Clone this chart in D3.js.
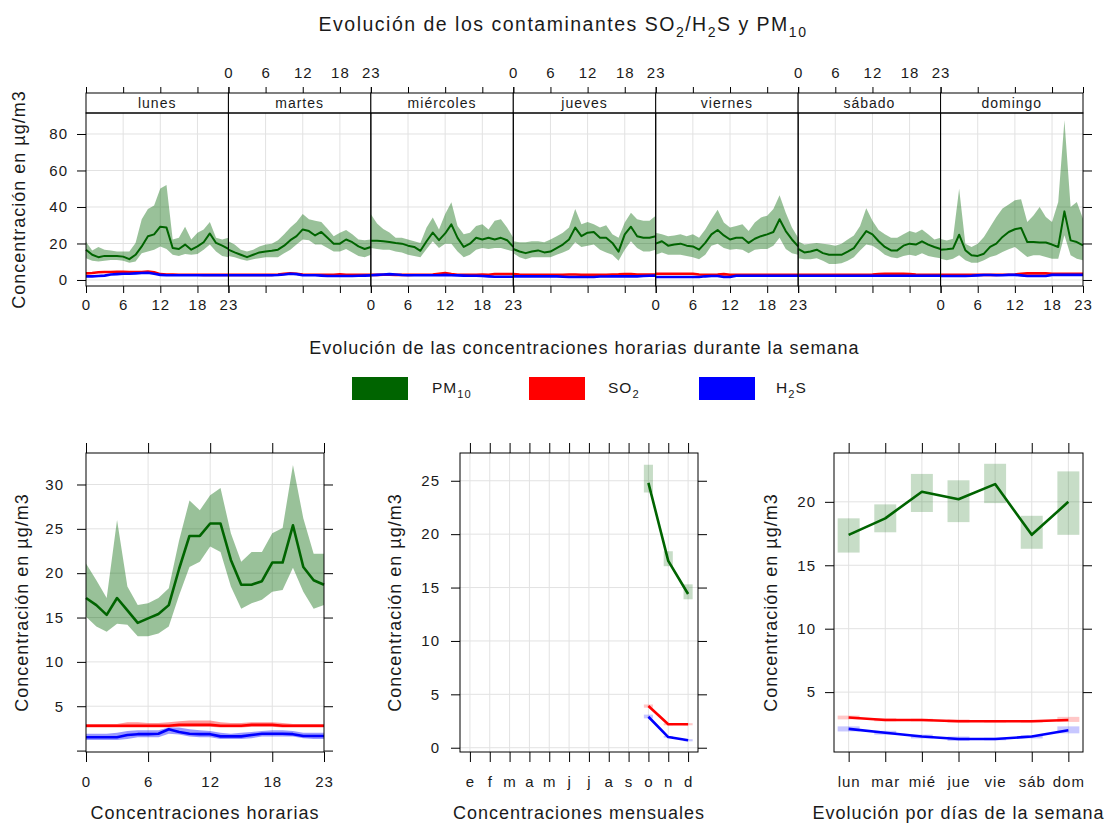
<!DOCTYPE html>
<html>
<head>
<meta charset="utf-8">
<script src="https://cdn.jsdelivr.net/npm/d3@7"></script>
<style>
  body { margin: 0; background: #fff; }
  svg text { font-family: "Liberation Sans", Arial, sans-serif; fill: #1a1a1a; }
</style>
</head>
<body>
<svg id="chart" width="1107" height="823"></svg>
<script>
// ---- data ----
var days = ['lunes', 'martes', 'miércoles', 'jueves', 'viernes', 'sábado', 'domingo']
var hourTicks = [0, 6, 12, 18, 23]

// hourly means over the week, lunes 0h ... domingo 23h
var pm10Week = [
  16.6, 13.8, 12.5, 13.2, 13.2, 13.2, 12.8, 11.4, 13.8, 18.4, 24.0, 25.0, 29.2, 28.7, 17.5, 17.0, 19.4, 16.6, 18.4, 20.7, 25.5, 20.3, 18.8, 17.0,
  16.6, 15.1, 13.8, 12.5, 13.8, 15.1, 15.6, 16.0, 16.6, 18.8, 21.8, 24.0, 27.7, 26.8, 24.4, 26.3, 23.1, 19.9, 19.9, 22.2, 20.7, 18.4, 17.0, 18.1,
  21.5, 21.5, 21.2, 20.8, 20.3, 19.9, 18.8, 18.1, 16.0, 21.2, 26.0, 21.8, 25.5, 30.5, 23.1, 18.1, 19.9, 23.1, 22.2, 23.1, 22.2, 23.1, 21.8, 18.1,
  17.0, 15.6, 14.7, 15.6, 16.2, 15.1, 15.6, 17.5, 19.4, 22.2, 28.7, 24.0, 25.9, 26.3, 23.1, 23.1, 20.3, 15.5, 25.0, 29.2, 24.0, 23.1, 23.1, 24.0,
  19.9, 21.2, 18.8, 19.4, 19.9, 18.8, 18.4, 16.6, 20.3, 25.0, 27.4, 24.4, 22.2, 23.1, 23.1, 20.3, 22.6, 24.0, 25.0, 26.3, 33.3, 26.8, 22.2, 18.4,
  17.0, 15.1, 15.6, 16.6, 14.7, 13.8, 13.8, 13.8, 15.6, 17.5, 22.2, 26.8, 25.0, 21.2, 18.1, 16.2, 16.2, 18.8, 19.9, 19.4, 21.2, 19.4, 18.1, 17.0,
  16.5, 16.8, 17.2, 24.8, 16.3, 13.5, 13.2, 14.4, 18.1, 19.9, 23.6, 26.3, 27.8, 28.5, 20.8, 20.8, 20.5, 20.5, 19.4, 18.1, 37.6, 21.7, 20.8, 19.0
]
var pm10WeekHi = [
  21.0, 16.2, 18.1, 16.6, 16.2, 15.6, 15.6, 15.6, 20.3, 33.3, 38.9, 40.8, 50.1, 52.0, 22.2, 23.1, 29.2, 22.2, 25.9, 27.7, 31.8, 23.1, 22.2, 23.1,
  21.2, 19.4, 16.6, 15.6, 16.6, 18.4, 19.4, 19.9, 21.8, 25.0, 28.7, 31.8, 36.1, 33.3, 32.4, 31.8, 28.1, 24.0, 25.9, 27.4, 25.0, 22.2, 21.8, 22.2,
  36.0, 31.0, 28.0, 26.0, 23.1, 23.1, 22.2, 21.2, 20.3, 28.7, 34.3, 27.7, 36.1, 42.6, 29.6, 25.0, 25.9, 29.6, 30.5, 27.7, 32.4, 33.3, 28.7, 23.1,
  21.2, 20.7, 20.7, 21.2, 21.2, 20.7, 22.2, 24.0, 25.9, 28.7, 38.9, 30.5, 31.8, 30.5, 28.7, 30.0, 25.0, 23.1, 31.5, 36.9, 33.3, 32.4, 32.4, 35.2,
  25.9, 25.0, 24.0, 24.4, 25.0, 24.0, 25.0, 23.1, 27.7, 33.3, 38.5, 31.5, 28.7, 29.6, 30.5, 26.8, 31.5, 34.3, 35.2, 38.9, 46.4, 36.9, 28.7, 23.1,
  21.2, 19.4, 19.9, 20.3, 19.9, 19.4, 18.8, 19.9, 22.2, 24.4, 29.6, 39.3, 32.4, 27.4, 25.0, 23.1, 23.1, 25.0, 26.8, 25.9, 27.7, 25.0, 22.2, 23.1,
  22.5, 21.7, 22.6, 50.0, 19.9, 18.1, 19.9, 23.6, 29.0, 34.5, 39.1, 41.3, 43.7, 44.2, 31.8, 35.4, 40.0, 34.5, 31.8, 42.7, 87.5, 40.0, 42.7, 33.6
]
var pm10WeekLo = [
  11.9, 10.6, 10.1, 10.6, 11.0, 11.0, 10.6, 9.5, 10.1, 14.7, 15.6, 16.6, 18.4, 17.0, 13.8, 13.2, 14.3, 13.8, 14.3, 16.6, 19.4, 15.6, 13.2, 12.5,
  13.2, 12.5, 11.4, 10.6, 11.4, 11.9, 12.5, 12.5, 12.5, 14.7, 16.6, 19.4, 22.2, 21.8, 19.4, 19.4, 17.5, 15.6, 15.6, 17.0, 15.1, 13.2, 12.5, 13.8,
  17.5, 17.0, 16.6, 16.6, 15.6, 15.1, 13.8, 13.2, 12.5, 17.0, 21.2, 17.5, 19.9, 19.9, 15.6, 12.5, 13.8, 16.6, 17.5, 17.0, 17.5, 17.5, 16.6, 15.6,
  14.7, 12.5, 11.4, 12.5, 12.5, 12.5, 12.5, 13.8, 15.1, 16.6, 20.7, 18.1, 18.8, 19.4, 16.6, 15.1, 13.8, 10.6, 16.6, 21.2, 17.5, 15.6, 15.6, 16.6,
  13.8, 15.1, 13.8, 13.8, 13.8, 13.2, 12.5, 11.4, 13.8, 18.8, 19.9, 17.5, 16.6, 17.0, 16.6, 14.7, 16.6, 17.0, 17.0, 18.8, 23.1, 17.0, 14.7, 13.8,
  11.9, 11.4, 11.4, 11.9, 10.6, 8.8, 8.8, 9.1, 10.6, 12.5, 16.2, 19.4, 18.8, 16.6, 13.8, 12.5, 11.9, 13.2, 13.8, 13.2, 14.7, 13.2, 12.5, 11.9,
  11.7, 10.8, 11.7, 13.5, 10.8, 9.5, 9.5, 10.8, 12.6, 13.5, 15.3, 16.8, 18.1, 15.3, 12.6, 13.5, 13.5, 12.6, 11.7, 11.7, 24.5, 13.5, 11.7, 10.8
]
var so2Week = [
  3.6, 3.8, 4.2, 4.4, 4.4, 4.5, 4.5, 4.4, 4.3, 4.4, 4.6, 4.2, 3.2, 3.0, 3.0, 2.9, 2.9, 2.9, 2.9, 2.8, 2.8, 2.8, 2.8, 2.8,
  2.8, 2.8, 2.8, 2.8, 2.8, 2.8, 2.8, 2.8, 3.0, 3.4, 3.6, 3.4, 3.0, 2.9, 2.9, 2.9, 2.9, 2.9, 3.1, 2.9, 2.8, 2.8, 2.8, 2.8,
  2.8, 2.8, 2.9, 2.9, 2.8, 2.8, 2.8, 2.9, 2.9, 2.9, 3.0, 3.4, 3.8, 3.2, 2.9, 2.9, 2.9, 2.9, 3.0, 2.9, 3.3, 3.3, 3.3, 3.3,
  3.2, 3.0, 2.9, 2.9, 2.9, 2.9, 2.9, 2.9, 2.9, 3.0, 3.0, 2.9, 2.9, 2.9, 2.9, 2.9, 3.0, 3.1, 3.3, 3.3, 3.0, 3.0, 3.0, 3.0,
  3.4, 3.4, 3.4, 3.4, 3.4, 3.4, 3.4, 3.0, 2.9, 2.9, 3.0, 3.2, 2.9, 2.9, 2.9, 2.9, 2.9, 2.9, 2.9, 2.9, 2.9, 2.9, 2.9, 2.9,
  2.8, 2.8, 2.8, 2.8, 2.8, 2.8, 2.8, 2.8, 2.8, 2.8, 2.8, 2.9, 3.0, 3.2, 3.4, 3.4, 3.4, 3.4, 3.3, 3.0, 2.9, 2.8, 2.8, 2.8,
  2.8, 2.8, 2.8, 2.8, 2.8, 2.8, 2.8, 2.8, 2.8, 2.8, 2.9, 2.9, 3.0, 3.4, 3.6, 3.6, 3.6, 3.6, 3.4, 3.4, 3.4, 3.4, 3.4, 3.4
]
var h2sWeek = [
  2.0, 2.0, 2.2, 2.4, 3.0, 3.2, 3.4, 3.4, 3.6, 3.8, 4.0, 3.4, 2.8, 2.6, 2.6, 2.6, 2.6, 2.6, 2.6, 2.6, 2.6, 2.6, 2.6, 2.6,
  2.6, 2.6, 2.6, 2.6, 2.6, 2.6, 2.6, 2.6, 2.7, 3.0, 3.4, 3.2, 2.6, 2.6, 2.6, 2.4, 2.2, 2.2, 2.2, 2.2, 2.2, 2.3, 2.4, 2.5,
  2.6, 2.8, 3.0, 3.2, 3.0, 2.7, 2.6, 2.6, 2.6, 2.6, 2.6, 2.6, 2.8, 2.6, 2.5, 2.4, 2.3, 2.3, 2.2, 2.0, 1.8, 1.8, 1.8, 1.8,
  2.0, 2.0, 2.0, 2.0, 2.0, 2.0, 2.0, 2.0, 1.8, 1.6, 1.6, 1.6, 1.6, 1.6, 1.9, 1.9, 2.0, 2.0, 2.0, 2.0, 2.0, 2.2, 2.3, 2.4,
  1.6, 1.6, 1.6, 1.6, 1.6, 1.6, 1.6, 1.6, 2.0, 2.2, 2.2, 1.6, 1.6, 2.3, 2.3, 2.3, 2.3, 2.3, 2.3, 2.3, 2.3, 2.3, 2.3, 2.3,
  2.3, 2.3, 2.3, 2.3, 2.3, 2.3, 2.3, 2.3, 2.3, 2.3, 2.3, 2.3, 2.3, 2.3, 2.3, 2.3, 2.3, 2.3, 2.3, 2.3, 2.3, 2.3, 2.3, 2.3,
  2.2, 2.2, 2.2, 2.2, 2.2, 2.3, 2.5, 2.7, 2.7, 2.6, 2.6, 2.8, 2.8, 2.5, 2.2, 2.2, 2.2, 2.2, 2.8, 2.8, 2.8, 2.8, 2.8, 2.8
]

// hour of day
var hours = [0, 1, 2, 3, 4, 5, 6, 7, 8, 9, 10, 11, 12, 13, 14, 15, 16, 17, 18, 19, 20, 21, 22, 23]
var pm10Hour = [17.2, 16.4, 15.3, 17.2, 15.8, 14.4, 14.9, 15.4, 16.4, 20.5, 24.2, 24.2, 25.6, 25.6, 21.5, 18.7, 18.7, 19.1, 21.2, 21.2, 25.4, 20.7, 19.2, 18.7]
var pm10HourHi = [21.1, 19.2, 17.2, 26.0, 18.5, 16.4, 16.6, 17.2, 18.3, 23.7, 28.2, 27.1, 28.8, 29.6, 24.5, 21.3, 22.4, 22.4, 24.5, 25.1, 32.2, 26.2, 22.2, 22.2]
var pm10HourLo = [15.1, 14.0, 13.4, 14.3, 14.2, 12.9, 12.9, 13.2, 14.0, 17.5, 20.7, 21.3, 23.0, 22.4, 18.5, 16.0, 16.6, 17.0, 17.9, 18.1, 20.6, 17.9, 16.0, 16.4]
var so2Hour = [2.8, 2.8, 2.8, 2.8, 2.8, 2.8, 2.8, 2.8, 2.8, 2.9, 2.9, 2.9, 2.9, 2.8, 2.8, 2.8, 2.9, 2.9, 2.9, 2.8, 2.8, 2.8, 2.8, 2.8]
var so2HourHi = [3.0, 3.0, 3.0, 3.0, 3.2, 3.2, 3.1, 3.1, 3.2, 3.3, 3.4, 3.4, 3.4, 3.2, 3.1, 3.1, 3.2, 3.2, 3.2, 3.1, 3.0, 3.0, 3.0, 3.0]
var so2HourLo = [2.6, 2.6, 2.6, 2.6, 2.6, 2.6, 2.6, 2.6, 2.6, 2.7, 2.7, 2.7, 2.7, 2.6, 2.6, 2.6, 2.7, 2.7, 2.7, 2.6, 2.6, 2.6, 2.6, 2.6]
var h2sHour = [1.5, 1.5, 1.5, 1.5, 1.75, 1.85, 1.85, 1.9, 2.4, 2.1, 1.9, 1.85, 1.85, 1.6, 1.6, 1.6, 1.75, 1.9, 1.9, 1.9, 1.85, 1.65, 1.65, 1.65]
var h2sHourHi = [1.9, 1.9, 1.9, 2.0, 2.2, 2.3, 2.3, 2.3, 2.6, 2.6, 2.4, 2.3, 2.2, 2.0, 1.9, 2.0, 2.1, 2.2, 2.3, 2.3, 2.2, 2.0, 2.0, 2.0]
var h2sHourLo = [1.2, 1.2, 1.2, 1.2, 1.3, 1.5, 1.5, 1.5, 1.9, 1.8, 1.6, 1.5, 1.5, 1.3, 1.3, 1.3, 1.4, 1.6, 1.6, 1.6, 1.6, 1.4, 1.3, 1.3]

// months (only oct-dec have data)
var monthLabels = ['e', 'f', 'm', 'a', 'm', 'j', 'j', 'a', 's', 'o', 'n', 'd']
var months = [10, 11, 12]
var pm10Month = [24.8, 17.5, 14.4]
var pm10MonthHi = [26.5, 18.4, 15.3]
var pm10MonthLo = [23.9, 17.0, 13.9]
var so2Month = [3.9, 2.2, 2.2]
var so2MonthHi = [4.05, 2.3, 2.3]
var so2MonthLo = [3.75, 2.1, 2.1]
var h2sMonth = [2.9, 1.0, 0.7]
var h2sMonthHi = [3.1, 1.1, 0.8]
var h2sMonthLo = [2.75, 0.95, 0.6]

// weekdays
var dayLabels = ['lun', 'mar', 'mié', 'jue', 'vie', 'sáb', 'dom']
var weekdays = [1, 2, 3, 4, 5, 6, 7]
var pm10Day = [17.4, 18.7, 20.8, 20.2, 21.4, 17.4, 20.0]
var pm10DayHi = [18.7, 19.8, 22.2, 21.7, 23.0, 18.9, 22.4]
var pm10DayLo = [16.0, 17.6, 19.2, 18.4, 19.9, 16.3, 17.4]
var so2Day = [3.0, 2.8, 2.8, 2.7, 2.7, 2.7, 2.8]
var so2DayHi = [3.15, 2.95, 2.9, 2.85, 2.8, 2.8, 3.05]
var so2DayLo = [2.85, 2.7, 2.7, 2.6, 2.6, 2.6, 2.65]
var h2sDay = [2.1, 1.8, 1.5, 1.3, 1.3, 1.5, 2.0]
var h2sDayHi = [2.3, 1.95, 1.65, 1.5, 1.4, 1.6, 2.3]
var h2sDayLo = [1.9, 1.65, 1.35, 1.15, 1.2, 1.35, 1.75]

// ---- drawing ----
var colPM = '#006400'
var colSO2 = '#ff0000'
var colH2S = '#0000ff'
var gridCol = '#e2e2e2'

var svg = d3.select('#chart')

// text with subscripts: parts = [[text, isSub], ...]
function richText (sel, parts, size) {
  var down = false
  parts.forEach(function (p) {
    var t = sel.append('tspan').text(p[0])
    if (p[1]) {
      t.attr('font-size', size * 0.72).attr('dy', size * 0.3)
      down = true
    } else if (down) {
      t.attr('dy', -size * 0.3)
      down = false
    }
  })
}

function styleAxis (g, size, ls) {
  g.select('.domain').remove()
  g.attr('font-size', size).attr('font-family', null)
  g.selectAll('line').attr('stroke', '#000')
  g.selectAll('text').style('letter-spacing', ls + 'px')
}

// ===== top panel: hour x day =====
var T = { left: 86, right: 1083, stripTop: 93, top: 113, bottom: 286 }
var yTop = d3.scaleLinear().domain([-3.3, 91.5]).range([T.bottom, T.top])
var dayEdge = d3.scaleLinear().domain([0, 7]).range([T.left, T.right])

var gTop = svg.append('g')

// grid
gTop.selectAll('.hg').data([0, 20, 40, 60, 80]).join('line')
  .attr('x1', T.left).attr('x2', T.right)
  .attr('y1', function (d) { return yTop(d) }).attr('y2', function (d) { return yTop(d) })
  .attr('stroke', gridCol)

var weekSeries = [
  { col: colPM, mean: pm10Week, lo: pm10WeekLo, hi: pm10WeekHi, w: 2 },
  { col: colSO2, mean: so2Week, w: 2.6 },
  { col: colH2S, mean: h2sWeek, w: 2.6 }
]

days.forEach(function (name, d) {
  var x = d3.scaleLinear().domain([0, 23]).range([dayEdge(d), dayEdge(d + 1)])

  gTop.selectAll('.vg' + d).data([6, 12, 18]).join('line')
    .attr('x1', x).attr('x2', x)
    .attr('y1', T.top).attr('y2', T.bottom)
    .attr('stroke', gridCol)

  var slice = function (arr) { return arr.slice(d * 24, d * 24 + 24) }

  weekSeries.forEach(function (s) {
    if (!s.lo) return
    var lo = slice(s.lo)
    var hi = slice(s.hi)
    gTop.append('path')
      .datum(hours)
      .attr('d', d3.area()
        .x(function (h) { return x(h) })
        .y0(function (h) { return yTop(lo[h]) })
        .y1(function (h) { return yTop(hi[h]) }))
      .attr('fill', s.col).attr('fill-opacity', 0.4)
  })
  weekSeries.forEach(function (s) {
    var m = slice(s.mean)
    gTop.append('path')
      .datum(hours)
      .attr('d', d3.line()
        .x(function (h) { return x(h) })
        .y(function (h) { return yTop(m[h]) }))
      .attr('fill', 'none').attr('stroke', s.col).attr('stroke-width', s.w)
      .attr('stroke-linejoin', 'round')
  })

  // panel border + strip
  gTop.append('rect')
    .attr('x', dayEdge(d)).attr('y', T.stripTop)
    .attr('width', dayEdge(d + 1) - dayEdge(d)).attr('height', T.top - T.stripTop)
    .attr('fill', '#fff').attr('stroke', '#000')
  gTop.append('text')
    .attr('x', (dayEdge(d) + dayEdge(d + 1)) / 2).attr('y', T.top - 5)
    .attr('text-anchor', 'middle').attr('font-size', 14)
    .style('letter-spacing', '1px')
    .text(name)
  gTop.append('rect')
    .attr('x', dayEdge(d)).attr('y', T.top)
    .attr('width', dayEdge(d + 1) - dayEdge(d)).attr('height', T.bottom - T.top)
    .attr('fill', 'none').attr('stroke', '#000')

  var fmt = function (v) { return v }
  var none = function () { return '' }
  var gb = gTop.append('g').attr('transform', 'translate(0,' + T.bottom + ')')
    .call(d3.axisBottom(x).tickValues(hourTicks).tickSize(7).tickPadding(6)
      .tickFormat(d % 2 === 0 ? fmt : none))
  styleAxis(gb, 15, 1)
  var gt = gTop.append('g').attr('transform', 'translate(0,' + T.stripTop + ')')
    .call(d3.axisTop(x).tickValues(hourTicks).tickSize(6).tickPadding(9)
      .tickFormat(d % 2 === 1 ? fmt : none))
  styleAxis(gt, 15, 1)
})

var gl = gTop.append('g').attr('transform', 'translate(' + T.left + ',0)')
  .call(d3.axisLeft(yTop).tickValues([0, 20, 40, 60, 80]).tickSize(9).tickPadding(9))
styleAxis(gl, 15, 1)
var gr = gTop.append('g').attr('transform', 'translate(' + T.right + ',0)')
  .call(d3.axisRight(yTop).tickValues([0, 20, 40, 60, 80]).tickSize(9).tickFormat(''))
styleAxis(gr, 15, 1)

// ===== bottom panels =====
function panel (o) {
  var g = svg.append('g')
  var x = o.x
  var y = o.y
  g.selectAll('.vg').data(o.vGrid).join('line')
    .attr('x1', x).attr('x2', x).attr('y1', o.top).attr('y2', o.bottom)
    .attr('stroke', gridCol)
  g.selectAll('.hg').data(o.hGrid).join('line')
    .attr('x1', o.left).attr('x2', o.right)
    .attr('y1', function (d) { return y(d) }).attr('y2', function (d) { return y(d) })
    .attr('stroke', gridCol)

  o.series.forEach(function (s) {
    if (o.boxes) {
      g.selectAll(null).data(o.xs).join('rect')
        .attr('x', function (v) { return x(v - o.boxes) })
        .attr('width', function (v) { return x(v + o.boxes) - x(v - o.boxes) })
        .attr('y', function (v, i) { return y(s.hi[i]) })
        .attr('height', function (v, i) { return y(s.lo[i]) - y(s.hi[i]) })
        .attr('fill', s.col).attr('fill-opacity', o.alpha)
    } else {
      g.append('path').datum(o.xs)
        .attr('d', d3.area()
          .x(function (v) { return x(v) })
          .y0(function (v, i) { return y(s.lo[i]) })
          .y1(function (v, i) { return y(s.hi[i]) }))
        .attr('fill', s.col).attr('fill-opacity', o.alpha)
    }
  })
  o.series.forEach(function (s) {
    g.append('path').datum(o.xs)
      .attr('d', d3.line()
        .x(function (v) { return x(v) })
        .y(function (v, i) { return y(s.mean[i]) }))
      .attr('fill', 'none').attr('stroke', s.col).attr('stroke-width', 2.6)
      .attr('stroke-linejoin', 'round')
  })

  g.append('rect')
    .attr('x', o.left).attr('y', o.top)
    .attr('width', o.right - o.left).attr('height', o.bottom - o.top)
    .attr('fill', 'none').attr('stroke', '#000')

  var ab = g.append('g').attr('transform', 'translate(0,' + o.bottom + ')')
    .call(d3.axisBottom(x).tickValues(o.xTicks).tickSize(10).tickPadding(14).tickFormat(o.xFormat))
  styleAxis(ab, 15, 1)
  var at = g.append('g').attr('transform', 'translate(0,' + o.top + ')')
    .call(d3.axisTop(x).tickValues(o.xTicks).tickSize(10).tickFormat(''))
  styleAxis(at, 15, 1)
  var al = g.append('g').attr('transform', 'translate(' + o.left + ',0)')
    .call(d3.axisLeft(y).tickValues(o.yTicks).tickSize(9).tickPadding(o.yPad).tickFormat(o.yFormat))
  styleAxis(al, 15, 1)
  var ar = g.append('g').attr('transform', 'translate(' + o.right + ',0)')
    .call(d3.axisRight(y).tickValues(o.yTicks).tickSize(9).tickFormat(''))
  styleAxis(ar, 15, 1)

  g.append('text')
    .attr('x', (o.left + o.right) / 2).attr('y', 819)
    .attr('text-anchor', 'middle').attr('font-size', 18)
    .style('letter-spacing', '1px')
    .text(o.title)
  g.append('text')
    .attr('transform', 'translate(' + o.yTitleX + ',' + (o.top + o.bottom) / 2 + ') rotate(-90)')
    .attr('text-anchor', 'middle').attr('font-size', 18)
    .style('letter-spacing', '1px')
    .text('Concentración en µg/m3')
}

var B = { top: 453, bottom: 752 }

panel({
  left: 86, right: 324, top: B.top, bottom: B.bottom,
  x: d3.scaleLinear().domain([0, 23]).range([86, 324]),
  y: d3.scaleLinear().domain([-0.16, 33.55]).range([B.bottom, B.top]),
  xs: hours,
  xTicks: hourTicks, xFormat: function (v) { return v },
  yTicks: [0, 5, 10, 15, 20, 25, 30], yFormat: function (v) { return v === 0 ? '' : v },
  yPad: 13,
  vGrid: [6, 12, 18], hGrid: [5, 10, 15, 20, 25, 30],
  alpha: 0.4,
  series: [
    { col: colPM, mean: pm10Hour, lo: pm10HourLo, hi: pm10HourHi },
    { col: colSO2, mean: so2Hour, lo: so2HourLo, hi: so2HourHi },
    { col: colH2S, mean: h2sHour, lo: h2sHourLo, hi: h2sHourHi }
  ],
  title: 'Concentraciones horarias', yTitleX: 28
})

panel({
  left: 460, right: 698, top: B.top, bottom: B.bottom,
  x: d3.scaleLinear().domain([0.5, 12.5]).range([460, 698]),
  y: d3.scaleLinear().domain([-0.4, 27.6]).range([B.bottom, B.top]),
  xs: months,
  xTicks: [1, 2, 3, 4, 5, 6, 7, 8, 9, 10, 11, 12], xFormat: function (v) { return monthLabels[v - 1] },
  yTicks: [0, 5, 10, 15, 20, 25], yFormat: function (v) { return v },
  yPad: 11,
  vGrid: [1, 2, 3, 4, 5, 6, 7, 8, 9, 10, 11, 12], hGrid: [0, 5, 10, 15, 20, 25],
  boxes: 0.23, alpha: 0.22,
  series: [
    { col: colPM, mean: pm10Month, lo: pm10MonthLo, hi: pm10MonthHi },
    { col: colSO2, mean: so2Month, lo: so2MonthLo, hi: so2MonthHi },
    { col: colH2S, mean: h2sMonth, lo: h2sMonthLo, hi: h2sMonthHi }
  ],
  title: 'Concentraciones mensuales', yTitleX: 401
})

panel({
  left: 834, right: 1083, top: B.top, bottom: B.bottom,
  x: d3.scaleLinear().domain([0.6, 7.4]).range([834, 1083]),
  y: d3.scaleLinear().domain([0.28, 23.85]).range([B.bottom, B.top]),
  xs: weekdays,
  xTicks: weekdays, xFormat: function (v) { return dayLabels[v - 1] },
  yTicks: [5, 10, 15, 20], yFormat: function (v) { return v },
  yPad: 9,
  vGrid: weekdays, hGrid: [5, 10, 15, 20],
  boxes: 0.3, alpha: 0.22,
  series: [
    { col: colPM, mean: pm10Day, lo: pm10DayLo, hi: pm10DayHi },
    { col: colSO2, mean: so2Day, lo: so2DayLo, hi: so2DayHi },
    { col: colH2S, mean: h2sDay, lo: h2sDayLo, hi: h2sDayHi }
  ],
  title: 'Evolución por días de la semana', yTitleX: 777
})

// ===== titles + legend =====
var title = svg.append('text')
  .attr('x', 563).attr('y', 31)
  .attr('text-anchor', 'middle').attr('font-size', 19.5)
  .style('letter-spacing', '1.5px')
richText(title, [['Evolución de los contaminantes SO', false], ['2', true], ['/H', false], ['2', true], ['S y PM', false], ['10', true]], 19.5)

svg.append('text')
  .attr('x', (T.left + T.right) / 2).attr('y', 354)
  .attr('text-anchor', 'middle').attr('font-size', 18)
  .style('letter-spacing', '1px')
  .text('Evolución de las concentraciones horarias durante la semana')

svg.append('text')
  .attr('transform', 'translate(25,' + (T.top + T.bottom) / 2 + ') rotate(-90)')
  .attr('text-anchor', 'middle').attr('font-size', 18)
  .style('letter-spacing', '1px')
  .text('Concentración en µg/m3')

var legendItems = [
  { col: colPM, x: 352, tx: 432, parts: [['PM', false], ['10', true]] },
  { col: colSO2, x: 529, tx: 608, parts: [['SO', false], ['2', true]] },
  { col: colH2S, x: 699, tx: 776, parts: [['H', false], ['2', true], ['S', false]] }
]
legendItems.forEach(function (it) {
  svg.append('rect')
    .attr('x', it.x).attr('y', 377).attr('width', 56).attr('height', 23)
    .attr('fill', it.col)
  var t = svg.append('text').attr('x', it.tx).attr('y', 393).attr('font-size', 15.5)
    .style('letter-spacing', '1px')
  richText(t, it.parts, 15.5)
})
</script>
</body>
</html>
